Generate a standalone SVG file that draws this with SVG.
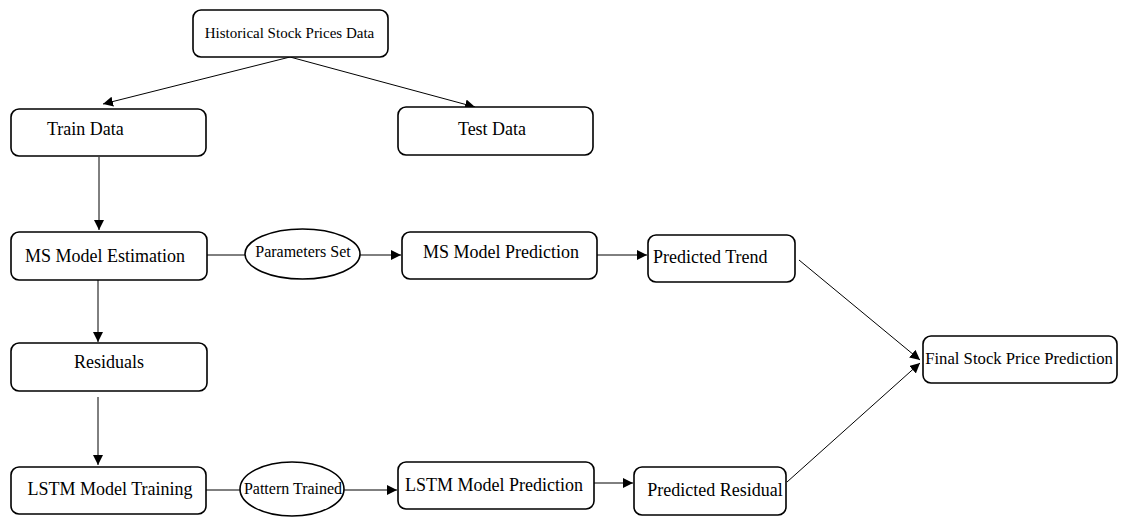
<svg xmlns="http://www.w3.org/2000/svg" width="1124" height="518" viewBox="0 0 1124 518">
  <style>
    .box { fill: #ffffff; stroke: #000000; stroke-width: 1.6; }
    .lbl { font-family: "Liberation Serif", "Times New Roman", serif; font-size: 18px; fill: #000000; }
    .sm { font-size: 15px; }
    .ov { font-size: 16px; }
    .md { font-size: 16.7px; }
    .edge { fill: none; stroke: #000000; stroke-width: 1; }
  </style>
  <defs>
    <marker id="arrow" viewBox="0 0 10 10" refX="10" refY="5" markerWidth="10" markerHeight="10" markerUnits="userSpaceOnUse" orient="auto">
      <path d="M0,0 L10,5 L0,10 z" fill="#000000"/>
    </marker>
  </defs>
  <rect width="1124" height="518" fill="#ffffff"/>

  <g id="connectors">
    <line class="edge" x1="290" y1="57" x2="103" y2="104" marker-end="url(#arrow)"/>
    <line class="edge" x1="290" y1="57" x2="475" y2="107" marker-end="url(#arrow)"/>
    <line class="edge" x1="99" y1="157" x2="99" y2="230" marker-end="url(#arrow)"/>
    <line class="edge" x1="207" y1="255" x2="245" y2="255"/>
    <line class="edge" x1="360" y1="255" x2="401" y2="255" marker-end="url(#arrow)"/>
    <line class="edge" x1="597" y1="255" x2="647" y2="255" marker-end="url(#arrow)"/>
    <line class="edge" x1="98" y1="280" x2="98" y2="342" marker-end="url(#arrow)"/>
    <line class="edge" x1="98" y1="397" x2="98" y2="465" marker-end="url(#arrow)"/>
    <line class="edge" x1="206" y1="490" x2="240" y2="490"/>
    <line class="edge" x1="344" y1="490" x2="397" y2="490" marker-end="url(#arrow)"/>
    <line class="edge" x1="594" y1="483" x2="633" y2="483" marker-end="url(#arrow)"/>
    <line class="edge" x1="799" y1="260" x2="920" y2="360" marker-end="url(#arrow)"/>
    <line class="edge" x1="787" y1="482" x2="920" y2="363" marker-end="url(#arrow)"/>
  </g>

  <g id="historical">
    <rect class="box" x="193" y="10" width="195" height="47" rx="8"/>
    <text class="lbl sm" x="289.5" y="38" text-anchor="middle">Historical Stock Prices Data</text>
  </g>
  <g id="train-data">
    <rect class="box" x="11" y="109" width="195" height="47" rx="8"/>
    <text class="lbl" x="47" y="135">Train Data</text>
  </g>
  <g id="test-data">
    <rect class="box" x="398" y="107" width="195" height="48" rx="8"/>
    <text class="lbl" x="492" y="135" text-anchor="middle">Test Data</text>
  </g>
  <g id="ms-estimation">
    <rect class="box" x="11" y="232" width="196" height="48" rx="8"/>
    <text class="lbl" x="105" y="262" text-anchor="middle">MS Model Estimation</text>
  </g>
  <g id="parameters-set">
    <ellipse class="box" cx="302.5" cy="254" rx="57.5" ry="25"/>
    <text class="lbl ov" x="303" y="257" text-anchor="middle">Parameters Set</text>
  </g>
  <g id="ms-prediction">
    <rect class="box" x="402" y="232" width="195" height="47" rx="8"/>
    <text class="lbl" x="501" y="258" text-anchor="middle">MS Model Prediction</text>
  </g>
  <g id="predicted-trend">
    <rect class="box" x="648" y="235" width="147" height="47" rx="8"/>
    <text class="lbl" x="653" y="263">Predicted Trend</text>
  </g>
  <g id="residuals">
    <rect class="box" x="11" y="343" width="196" height="48" rx="8"/>
    <text class="lbl" x="109" y="368" text-anchor="middle">Residuals</text>
  </g>
  <g id="lstm-training">
    <rect class="box" x="11" y="467" width="195" height="47" rx="8"/>
    <text class="lbl" x="110" y="495" text-anchor="middle">LSTM Model Training</text>
  </g>
  <g id="pattern-trained">
    <ellipse class="box" cx="292" cy="489" rx="52" ry="27"/>
    <text class="lbl ov" x="293" y="494" text-anchor="middle">Pattern Trained</text>
  </g>
  <g id="lstm-prediction">
    <rect class="box" x="398" y="462" width="196" height="47" rx="8"/>
    <text class="lbl" x="494" y="491" text-anchor="middle">LSTM Model Prediction</text>
  </g>
  <g id="predicted-residual">
    <rect class="box" x="634" y="467" width="152" height="48" rx="8"/>
    <text class="lbl" x="715" y="496" text-anchor="middle">Predicted Residual</text>
  </g>
  <g id="final-prediction">
    <rect class="box" x="923" y="336" width="194" height="47" rx="8"/>
    <text class="lbl md" x="1019" y="364" text-anchor="middle">Final Stock Price Prediction</text>
  </g>
</svg>
